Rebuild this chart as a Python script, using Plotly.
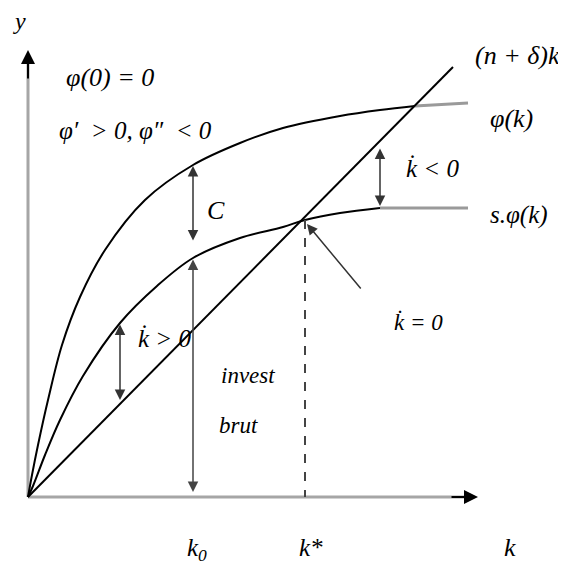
import plotly.graph_objects as go

# everything is placed in picture pixels (x right, y down)
phi_x = [28, 32, 38, 48, 62, 80, 105, 145, 193, 240, 283, 340, 380, 415]
phi_y = [497, 475, 445, 400, 345, 297, 250, 200, 165, 143, 128, 116, 110, 106]
phi_tail_x = [415, 468]
phi_tail_y = [106, 103]

sphi_x = [28, 33, 45, 60, 83, 120, 157, 193, 240, 283, 305, 340, 380]
sphi_y = [497, 486, 455, 420, 376, 323, 286, 258, 238, 227, 220, 213, 208]
sphi_tail_x = [380, 468]
sphi_tail_y = [208, 208]

line_x = [28, 453]
line_y = [497, 67]

k0_x = 193
kstar_x = 305
kstar_y = 220

FONT = "Liberation Serif"
PAD = 8  # body margin of the html page

fig = go.Figure()

def add_line(xs, ys, color="black", width=2, dash="solid"):
    fig.add_trace(go.Scatter(x=xs, y=ys, mode="lines", line_shape="spline",
                             line=dict(color=color, width=width, dash=dash),
                             hoverinfo="skip", showlegend=False))

# axes
add_line([28, 28], [497, 60], color="#a6a6a6", width=3)
add_line([28, 468], [497, 497], color="#a6a6a6", width=3)

# curves
add_line(phi_x, phi_y)
add_line(phi_tail_x, phi_tail_y, color="#9a9a9a", width=3)
add_line(sphi_x, sphi_y)
add_line(sphi_tail_x, sphi_tail_y, color="#9a9a9a", width=3)
add_line(line_x, line_y)

# dashed k* line
add_line([kstar_x, kstar_x], [kstar_y, 497], color="#444444", width=2, dash="dash")

def arrow(x0, y0, x1, y1, side="end", color="black", width=1.5):
    fig.add_annotation(x=x1, y=y1, ax=x0, ay=y0, xref="x", yref="y", axref="x", ayref="y",
                       text="", showarrow=True, arrowhead=2, arrowsize=1.4,
                       arrowwidth=width, arrowcolor=color, arrowside=side)

# axis arrow heads
arrow(28, 80, 28, 50, width=2)
arrow(450, 497, 478, 497, width=2)

# C and investment arrows on k0
arrow(k0_x, 242, k0_x, 166, side="end+start", color="#333333")
arrow(k0_x, 258, k0_x, 492, side="end+start", color="#444444")
# kdot > 0 and kdot < 0
arrow(120, 323, 120, 400, side="end+start", color="#333333")
arrow(380, 147, 380, 206, side="end+start", color="#333333")
# pointer to steady state
arrow(362, 290, 307, 224, color="#333333")

def label(x, y, txt, size=24, italic=True):
    fig.add_annotation(x=x, y=y, xref="x", yref="y", text=txt, showarrow=False,
                       font=dict(family=FONT, size=size, color="black",
                                 style="italic" if italic else "normal"))

label(19, 21, "y", 24)
label(110, 77, "φ(0) = 0", 26)
label(135, 130, "φ′  > 0, φ″  < 0", 25)
label(216, 210, "C", 26)
label(517, 55, "(n + δ)k", 26)
label(511, 118, "φ(k)", 26)
label(432, 168, "k̇ < 0", 25)
label(519, 215, "s.φ(k)", 25)
label(418, 322, "k̇ = 0", 23)
label(164, 338, "k̇ > 0", 25)
label(248, 375, "invest", 23)
label(238, 425, "brut", 23)
label(197, 549, "k<sub>0</sub>", 25)
label(311, 547, "k*", 25)
label(510, 547, "k", 26)

fig.update_xaxes(range=[PAD, 566], visible=False, fixedrange=True)
fig.update_yaxes(range=[572, PAD], visible=False, fixedrange=True)
fig.update_layout(width=566 - PAD, height=572 - PAD, margin=dict(l=0, r=0, t=0, b=0),
                  plot_bgcolor="white", paper_bgcolor="white")

fig.write_html("out.html")
